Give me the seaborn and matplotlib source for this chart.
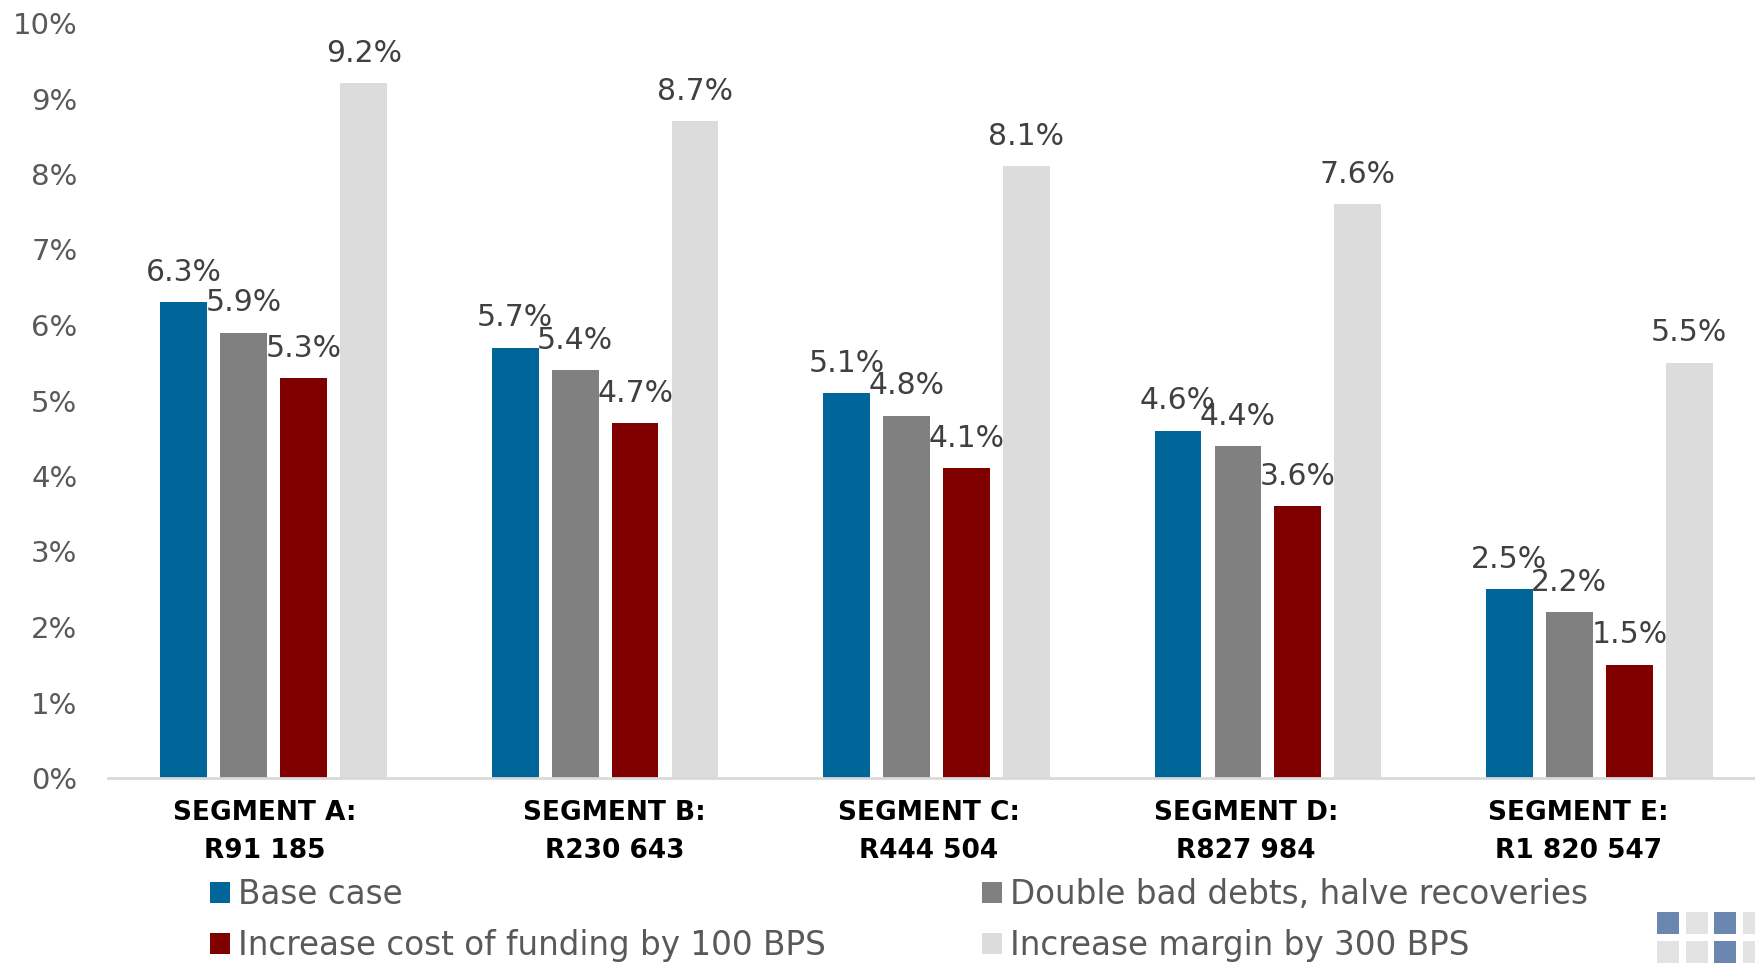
import matplotlib
matplotlib.use("Agg")
import matplotlib.pyplot as plt
from matplotlib.patches import Rectangle, Patch
from matplotlib.transforms import ScaledTranslation
import pandas as pd
import seaborn as sns

# Segment categories (two-line labels) and scenario returns, in percent
segments = ["SEGMENT A:\nR91 185", "SEGMENT B:\nR230 643", "SEGMENT C:\nR444 504",
            "SEGMENT D:\nR827 984", "SEGMENT E:\nR1 820 547"]
scenarios = ["Base case", "Double bad debts, halve recoveries",
             "Increase cost of funding by 100 BPS", "Increase margin by 300 BPS"]
base_case = [6.3, 5.7, 5.1, 4.6, 2.5]
double_bad_debts = [5.9, 5.4, 4.8, 4.4, 2.2]
cost_of_funding = [5.3, 4.7, 4.1, 3.6, 1.5]
increase_margin = [9.2, 8.7, 8.1, 7.6, 5.5]
y_ticks = [0, 1, 2, 3, 4, 5, 6, 7, 8, 9, 10]

colors = ["#006699", "#808080", "#800000", "#DCDCDC"]

rows = []
for name, vals in zip(scenarios, [base_case, double_bad_debts, cost_of_funding, increase_margin]):
    for seg, v in zip(segments, vals):
        rows.append({"segment": seg, "scenario": name, "value": v})
df = pd.DataFrame(rows)

sns.set_theme(style="white")
plt.rcParams["font.family"] = ["DejaVu Sans"]

W, H = 1756, 965
fig = plt.figure(figsize=(W / 100, H / 100), dpi=100)
ax = fig.add_axes([108 / W, 187 / H, 1657 / W, 755 / H])

sns.barplot(data=df, x="segment", y="value", hue="scenario", order=segments,
            hue_order=scenarios, palette=colors, width=0.724, gap=0.22,
            linewidth=0, saturation=1, legend=False, ax=ax)

for cont in ax.containers:
    ax.bar_label(cont, fmt="{:.1f}%", padding=11, fontsize=21.5, color="#404040",
                 clip_on=False)

ax.set_xlim(-0.5, 4.5)
ax.set_ylim(0, 10)
ax.set_yticks(y_ticks)
ax.set_yticklabels([f"{t}%" for t in y_ticks], fontsize=21, color="#595959")
ax.set_xticks(range(len(segments)))
ax.set_xticklabels(segments, fontsize=19, fontweight="bold", color="black",
                   linespacing=1.6)
ax.tick_params(axis="both", length=0)
ax.tick_params(axis="y", pad=22)
ax.tick_params(axis="x", pad=16)
ax.set_xlabel("")
ax.set_ylabel("")
for side in ["top", "right", "left"]:
    ax.spines[side].set_visible(False)
ax.spines["bottom"].set_color("#D9D9D9")
ax.spines["bottom"].set_linewidth(2)

# Category label nudges (pixels) so each label sits where the layout puts it
label_shift_px = [-8.5, 9.5, -8, -22, -21]
for lbl, dx in zip(ax.get_xticklabels(), label_shift_px):
    lbl.set_transform(lbl.get_transform() + ScaledTranslation(dx / 100, 0, fig.dpi_scale_trans))

# Legend: two columns placed separately
handles = [Patch(facecolor=c, edgecolor="none") for c in colors]
legend_kw = dict(frameon=False, fontsize=23.5, handlelength=0.62, handleheight=0.62,
                 handletextpad=0.25, labelspacing=0.56, borderpad=0,
                 borderaxespad=0, loc="upper left", labelcolor="#595959")
fig.legend([handles[0], handles[2]], [scenarios[0], scenarios[2]],
           bbox_to_anchor=(210 / W, 1 - 878 / H), **legend_kw)
fig.legend([handles[1], handles[3]], [scenarios[1], scenarios[3]],
           bbox_to_anchor=(982 / W, 1 - 878 / H), **legend_kw)

# Small tile mark in the lower right corner
tile_cols = [1657, 1686, 1714, 1743]
tile_rows = [912, 941]
pattern = [["#6A87B0", "#E3E3E3", "#6A87B0", "#E3E3E3"],
           ["#E3E3E3", "#E3E3E3", "#6A87B0", "#E3E3E3"]]
for r, y0 in enumerate(tile_rows):
    for c, x0 in enumerate(tile_cols):
        fig.add_artist(Rectangle((x0 / W, 1 - (y0 + 22) / H), 22 / W, 22 / H,
                                 transform=fig.transFigure, facecolor=pattern[r][c],
                                 edgecolor="none"))

fig.savefig("out.png", dpi=100)
